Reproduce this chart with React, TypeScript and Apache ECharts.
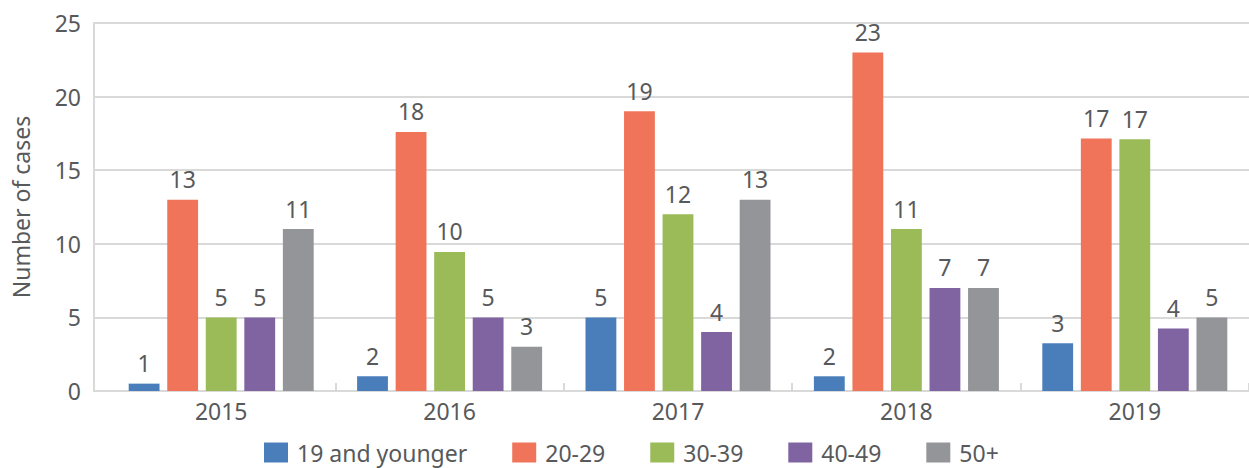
import React, { useEffect, useRef } from "react";
import * as echarts from "echarts";

const years = ["2015", "2016", "2017", "2018", "2019"];
const seriesNames = ["19 and younger", "20-29", "30-39", "40-49", "50+"];
const colors = ["#4A7EBB", "#F0745A", "#9BBB59", "#8064A2", "#949598"];

// bar heights as drawn
const under20 = [0.5, 1.0, 5.0, 1.0, 3.25];
const age20s = [13, 17.6, 19, 23, 17.15];
const age30s = [5, 9.45, 12, 11, 17.1];
const age40s = [5, 5, 4, 7, 4.25];
const age50plus = [11, 3, 13, 7, 5];

// printed labels
const under20Labels = ["1", "2", "5", "2", "3"];
const age20sLabels = ["13", "18", "19", "23", "17"];
const age30sLabels = ["5", "10", "12", "11", "17"];
const age40sLabels = ["5", "5", "4", "7", "4"];
const age50plusLabels = ["11", "3", "13", "7", "5"];

const yTicks = [0, 5, 10, 15, 20, 25];

const FONT = "'Noto Sans', sans-serif";
const TEXT = "#58595B";
const GRID = "#D9D9D9";

export default function App() {
  const ref = useRef<HTMLDivElement>(null);
  useEffect(() => {
    if (!ref.current) return;
    document.body.style.margin = "0";
    const chart = echarts.init(ref.current, undefined, { renderer: "svg" });
    const values = [under20, age20s, age30s, age40s, age50plus];
    const labels = [under20Labels, age20sLabels, age30sLabels, age40sLabels, age50plusLabels];
    chart.setOption({
      animation: false,
      textStyle: { fontFamily: FONT },
      legend: {
        data: seriesNames,
        top: 441,
        left: 264,
        itemWidth: 24,
        itemHeight: 20,
        itemGap: 45,
        icon: "rect",
        padding: 0,
        textStyle: { color: TEXT, fontSize: 23, fontFamily: FONT, padding: [0, 0, 0, 4] },
      },
      grid: [
        { left: 94, right: 0, top: 23, bottom: 77 },
        { left: 107, right: -2, top: 23, bottom: 77 },
      ],
      xAxis: [
        {
          gridIndex: 0,
          type: "value",
          min: 0,
          max: 1,
          axisLine: { show: true, lineStyle: { color: GRID, width: 2 } },
          axisTick: { show: false },
          axisLabel: { show: false },
          splitLine: { show: false },
        },
        {
          gridIndex: 1,
          type: "category",
          data: years,
          axisLine: { show: false },
          axisTick: {
            show: true,
            inside: true,
            length: 8,
            interval: (i: number) => i > 0,
            lineStyle: { color: GRID, width: 2 },
          },
          axisLabel: { color: TEXT, fontSize: 23, margin: 8, fontFamily: FONT },
        },
      ],
      yAxis: [
        {
          gridIndex: 0,
          type: "value",
          min: yTicks[0],
          max: yTicks[yTicks.length - 1],
          interval: 5,
          name: "Number of cases",
          nameLocation: "middle",
          nameGap: 62,
          nameTextStyle: { color: TEXT, fontSize: 23, fontFamily: FONT },
          axisLine: { show: true, lineStyle: { color: GRID, width: 2 } },
          axisTick: { show: false },
          axisLabel: { color: TEXT, fontSize: 23, margin: 13, fontFamily: FONT },
          splitLine: { show: true, lineStyle: { color: GRID, width: 2 } },
        },
        {
          gridIndex: 1,
          type: "value",
          min: yTicks[0],
          max: yTicks[yTicks.length - 1],
          interval: 5,
          show: false,
          splitLine: { show: false },
        },
      ],
      series: seriesNames.map((name, s) => ({
        name,
        type: "bar",
        xAxisIndex: 1,
        yAxisIndex: 1,
        data: values[s],
        barGap: "25%",
        barCategoryGap: "19%",
        itemStyle: { color: colors[s] },
        label: {
          show: true,
          position: "top",
          distance: 9,
          color: TEXT,
          fontSize: 23,
          fontFamily: FONT,
          formatter: (p: any) => labels[s][p.dataIndex],
        },
      })),
    });
    return () => chart.dispose();
  }, []);
  return <div ref={ref} style={{ width: 1249, height: 468 }} />;
}
